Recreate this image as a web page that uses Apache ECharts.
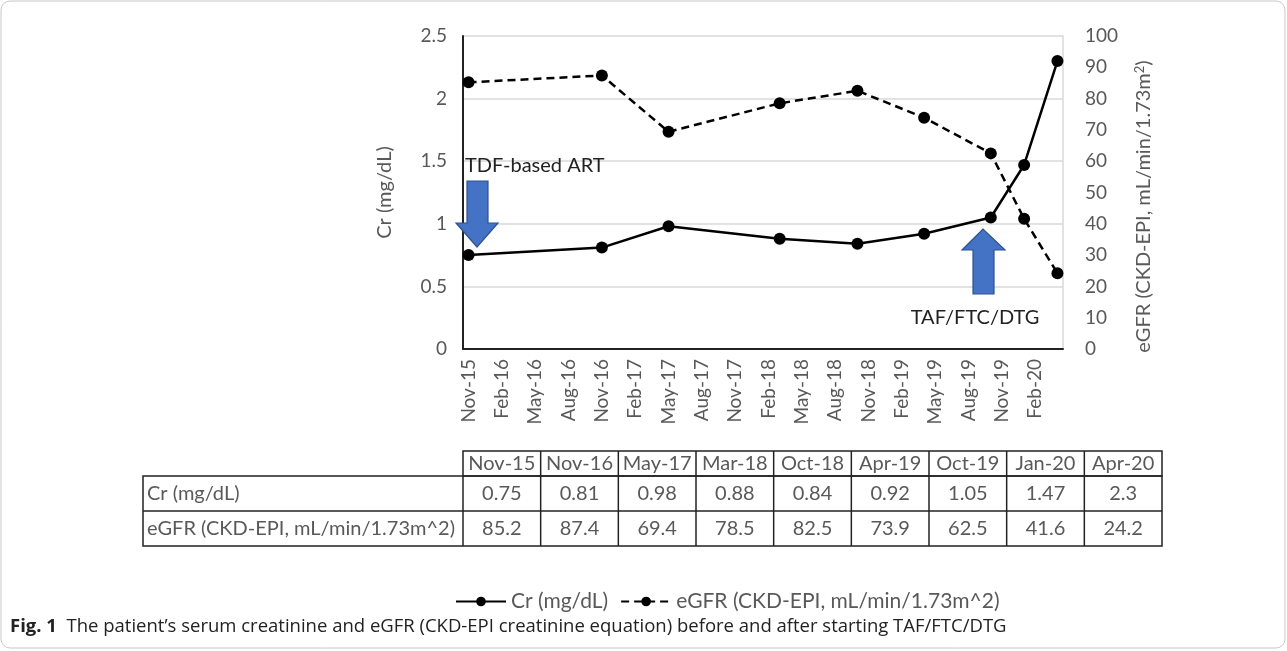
<!DOCTYPE html>
<html><head><meta charset="utf-8">
<script src="https://cdn.jsdelivr.net/npm/echarts@6/dist/echarts.min.js"></script>
<style>html,body{margin:0;padding:0;background:#fff;}#c{width:1287px;height:651px;}</style>
</head><body><div id="c"></div>
<script>
// ---- data ----
var sampleDates = ['Nov-15','Nov-16','May-17','Mar-18','Oct-18','Apr-19','Oct-19','Jan-20','Apr-20'];
var crValues    = [0.75, 0.81, 0.98, 0.88, 0.84, 0.92, 1.05, 1.47, 2.3];
var egfrValues  = [85.2, 87.4, 69.4, 78.5, 82.5, 73.9, 62.5, 41.6, 24.2];
var axisStart = 'Nov-15', axisEnd = 'Apr-20';
var crName = 'Cr (mg/dL)';
var egfrName = 'eGFR (CKD-EPI, mL/min/1.73m^2)';
var leftTicks = [0, 0.5, 1, 1.5, 2, 2.5];
var rightTicks = [0,10,20,30,40,50,60,70,80,90,100];

// month categories
var MON = ['Jan','Feb','Mar','Apr','May','Jun','Jul','Aug','Sep','Oct','Nov','Dec'];
function parse(s){var p=s.split('-');return (2000+ +p[1])*12+MON.indexOf(p[0]);}
function fmt(m){return MON[m%12]+'-'+String(Math.floor(m/12)%100).padStart(2,'0');}
var months=[];for(var m=parse(axisStart);m<=parse(axisEnd);m++)months.push(fmt(m));

var FONT='Lato';
var GRAY='#595959';
var chart=echarts.init(document.getElementById('c'),null,{renderer:'canvas'});

// table graphics
var tLeft=143, tFirst=463, tRight=1162, rowY=[451,476,511,546];
var colW=(tRight-tFirst)/sampleDates.length;
var g=[];
g.push({type:'rect',shape:{x:1,y:1,width:1284,height:647,r:9},style:{fill:'none',stroke:'#c8c8c8',lineWidth:1},silent:true});
var lineStyle={stroke:'#222',lineWidth:1.5};
g.push({type:'rect',shape:{x:tFirst,y:rowY[0],width:tRight-tFirst,height:rowY[1]-rowY[0]},style:{fill:'none',stroke:'#222',lineWidth:1.5}});
g.push({type:'rect',shape:{x:tLeft,y:rowY[1],width:tRight-tLeft,height:rowY[3]-rowY[1]},style:{fill:'none',stroke:'#222',lineWidth:1.5}});
g.push({type:'line',shape:{x1:tLeft,y1:rowY[2],x2:tRight,y2:rowY[2]},style:lineStyle});
g.push({type:'line',shape:{x1:tFirst,y1:rowY[1],x2:tFirst,y2:rowY[3]},style:lineStyle});
for(var i=1;i<sampleDates.length;i++){
  var x=tFirst+colW*i;
  g.push({type:'line',shape:{x1:x,y1:rowY[0],x2:x,y2:rowY[3]},style:lineStyle});
}
var tfont='20px '+FONT;
g.push({type:'text',x:tLeft+4,y:(rowY[1]+rowY[2])/2,style:{text:crName,font:tfont,fill:GRAY,verticalAlign:'middle'}});
g.push({type:'text',x:tLeft+4,y:(rowY[2]+rowY[3])/2,style:{text:egfrName,font:tfont,fill:GRAY,verticalAlign:'middle'}});
sampleDates.forEach(function(d,i){
  var cx=tFirst+colW*(i+0.5);
  g.push({type:'text',x:cx,y:(rowY[0]+rowY[1])/2,style:{text:d,font:tfont,fill:GRAY,align:'center',verticalAlign:'middle'}});
  g.push({type:'text',x:cx,y:(rowY[1]+rowY[2])/2,style:{text:String(crValues[i]),font:tfont,fill:GRAY,align:'center',verticalAlign:'middle'}});
  g.push({type:'text',x:cx,y:(rowY[2]+rowY[3])/2,style:{text:String(egfrValues[i]),font:tfont,fill:GRAY,align:'center',verticalAlign:'middle'}});
});
// arrows
var arrowStyle={fill:'#4472C4',stroke:'#2F528F',lineWidth:1.2};
g.push({type:'polygon',z:100,shape:{points:[[467,181],[488,181],[488,223],[498,223],[477,247],[456,223],[467,223]]},style:arrowStyle});
g.push({type:'polygon',z:100,shape:{points:[[973,294],[994,294],[994,250],[1005,250],[983,229],[962,250],[973,250]]},style:arrowStyle});
g.push({type:'text',z:100,x:465,y:166,style:{text:'TDF-based ART',font:'20px '+FONT,fill:'#222',verticalAlign:'middle'}});
g.push({type:'text',z:100,x:975,y:318,style:{text:'TAF/FTC/DTG',font:'20px '+FONT,fill:'#222',align:'center',verticalAlign:'middle'}});
// caption
g.push({type:'text',x:10,y:627,style:{rich:{b:{font:'bold 18.5px "Open Sans"',fill:'#222'},n:{font:'18.5px "Open Sans"',fill:'#222'}},text:'{b|Fig. 1}{n|  The patient\u2019s serum creatinine and eGFR (CKD-EPI creatinine equation) before and after starting TAF/FTC/DTG}',verticalAlign:'middle'}});

function pairs(vals){return sampleDates.map(function(d,i){return [d,vals[i]];});}

chart.setOption({
  animation:false,
  textStyle:{fontFamily:FONT},
  grid:{left:463,right:224,top:36,bottom:302},
  legend:{top:586,left:450,itemWidth:50,itemHeight:12,itemGap:12,
    textStyle:{fontSize:21,color:GRAY,fontFamily:FONT},
    data:[crName,egfrName]},
  xAxis:{type:'category',data:months,boundaryGap:true,
    axisLine:{lineStyle:{color:'#222',width:2}},axisTick:{show:false},
    axisLabel:{interval:2,rotate:90,fontSize:19,color:GRAY,margin:10,fontFamily:FONT},
    splitLine:{show:false}},
  yAxis:[
    {type:'value',min:0,max:2.5,interval:0.5,position:'left',
      name:'Cr (mg/dL)',nameLocation:'middle',nameRotate:90,nameGap:68,
      nameTextStyle:{fontSize:20,color:GRAY,fontFamily:FONT},
      axisLine:{show:true,lineStyle:{color:'#222',width:2}},axisTick:{show:false},
      axisLabel:{fontSize:19,color:GRAY,margin:16,fontFamily:FONT},
      splitLine:{lineStyle:{color:'#d9d9d9',width:1.5}}},
    {type:'value',min:0,max:100,interval:10,position:'right',
      name:'eGFR (CKD-EPI, mL/min/1.73m{s|2})',nameLocation:'middle',nameRotate:90,nameGap:70,
      nameTextStyle:{fontSize:20,color:GRAY,fontFamily:FONT,padding:[0,28,0,0],rich:{s:{fontSize:13,verticalAlign:'top',color:GRAY,padding:[0,0,8,0]}}},
      axisLine:{show:true,lineStyle:{color:'#d9d9d9',width:1.5}},axisTick:{show:false},
      axisLabel:{fontSize:19,color:GRAY,margin:22,fontFamily:FONT},
      splitLine:{show:false}}
  ],
  series:[
    {name:crName,type:'line',yAxisIndex:0,data:pairs(crValues),showAllSymbol:true,
      symbol:'circle',symbolSize:12,itemStyle:{color:'#000'},lineStyle:{color:'#000',width:2.5,type:'solid'}},
    {name:egfrName,type:'line',yAxisIndex:1,data:pairs(egfrValues),showAllSymbol:true,
      symbol:'circle',symbolSize:12,itemStyle:{color:'#000'},lineStyle:{color:'#000',width:2.5,type:[8,5]}}
  ],
  graphic:g
});
</script></body></html>
